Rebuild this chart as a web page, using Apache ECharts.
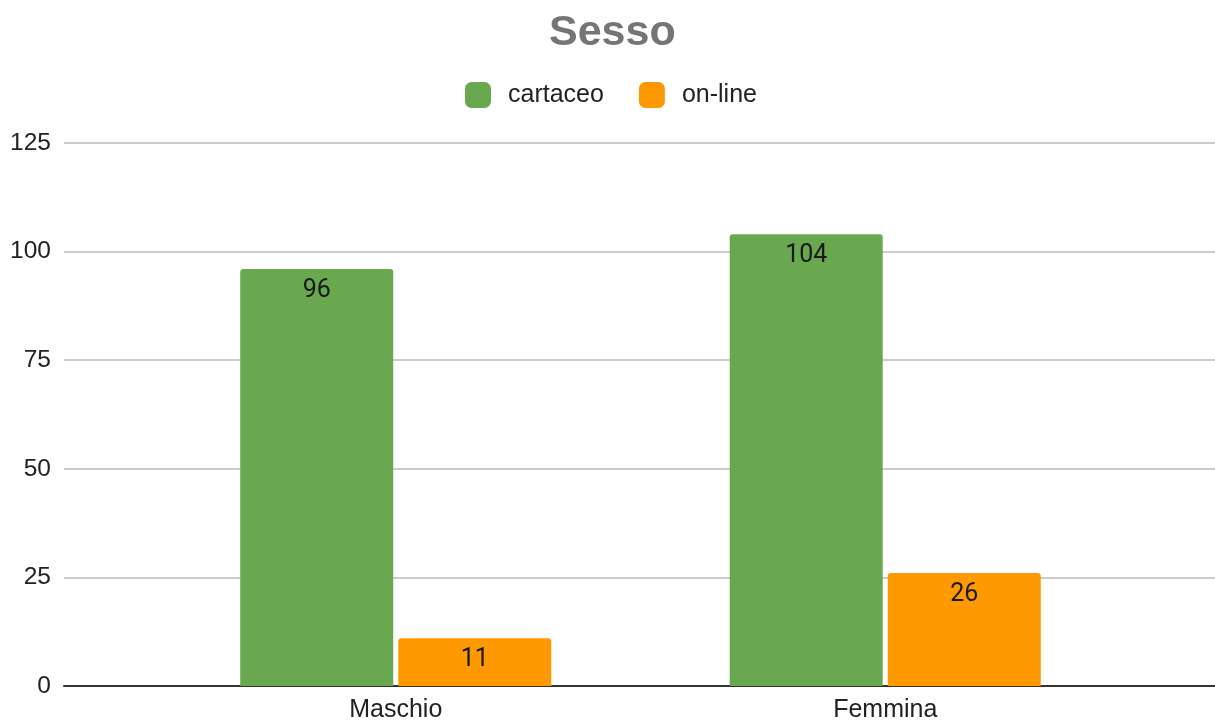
<!DOCTYPE html>
<html>
<head>
<meta charset="utf-8">
<script src="https://cdn.jsdelivr.net/npm/echarts@6/dist/echarts.min.js"></script>
<style>
  html, body { margin: 0; padding: 0; background: #ffffff; }
  #chart { width: 1215px; height: 725px; }
</style>
</head>
<body>
<div id="chart"></div>
<script>
// Respondents by sex, split by questionnaire format
const categories = ['Maschio', 'Femmina'];
const cartaceo = [96, 104];
const online = [11, 26];
const yTicks = [0, 25, 50, 75, 100, 125];

const SANS = '"Liberation Sans", Arial, sans-serif';
const ROBOTO = 'Roboto, "Liberation Sans", Arial, sans-serif';
const yMin = yTicks[0];
const yMax = yTicks[yTicks.length - 1];
const yStep = yTicks[1] - yTicks[0];

const labelStyle = {
  show: true,
  position: 'insideTop',
  distance: 9,
  color: '#1a1a1a',
  fontSize: 25,
  fontFamily: ROBOTO
};

const chart = echarts.init(document.getElementById('chart'), null, { renderer: 'canvas' });
chart.setOption({
  backgroundColor: '#ffffff',
  animation: false,
  title: {
    text: 'Sesso',
    left: 544,
    top: 7,
    textStyle: { color: '#757575', fontSize: 43, fontWeight: 'bold', fontFamily: SANS }
  },
  legend: {
    top: 77,
    left: 460,
    itemWidth: 26,
    itemHeight: 26,
    itemGap: 35,
    icon: 'roundRect',
    textStyle: { color: '#222222', fontSize: 25, fontFamily: SANS, padding: [0, 0, 0, 12] },
    data: ['cartaceo', 'on-line']
  },
  grid: [
    // full-width grid: gridlines, value labels and baseline
    { left: 64, right: 0, top: 143, bottom: 39 },
    // inner grid holding the category bars
    { left: 151, right: 85, top: 143, bottom: 39 }
  ],
  xAxis: [
    {
      gridIndex: 0, type: 'value', min: 0, max: 1,
      axisLine: { show: true, lineStyle: { color: '#333333', width: 2 } },
      axisTick: { show: false }, axisLabel: { show: false }, splitLine: { show: false }
    },
    {
      gridIndex: 1, type: 'category', data: categories,
      axisLine: { show: false }, axisTick: { show: false },
      axisLabel: { color: '#222222', fontSize: 25, fontFamily: SANS, margin: 12 }
    }
  ],
  yAxis: [
    {
      gridIndex: 0, type: 'value', min: yMin, max: yMax, interval: yStep,
      axisLine: { show: false }, axisTick: { show: false },
      axisLabel: { color: '#222222', fontSize: 24.5, fontFamily: SANS, margin: 13 },
      splitLine: { lineStyle: { color: '#cccccc', width: 2 } }
    },
    {
      gridIndex: 1, type: 'value', min: yMin, max: yMax, interval: yStep,
      show: false, splitLine: { show: false }
    }
  ],
  series: [
    {
      name: 'cartaceo', type: 'bar', xAxisIndex: 1, yAxisIndex: 1,
      data: cartaceo, barWidth: 153, barGap: '3.3%',
      itemStyle: { color: '#6aa84f', borderRadius: [3, 3, 0, 0] },
      label: labelStyle
    },
    {
      name: 'on-line', type: 'bar', xAxisIndex: 1, yAxisIndex: 1,
      data: online, barWidth: 153, barGap: '3.3%',
      itemStyle: { color: '#ff9900', borderRadius: [3, 3, 0, 0] },
      label: labelStyle
    }
  ]
});
</script>
</body>
</html>
